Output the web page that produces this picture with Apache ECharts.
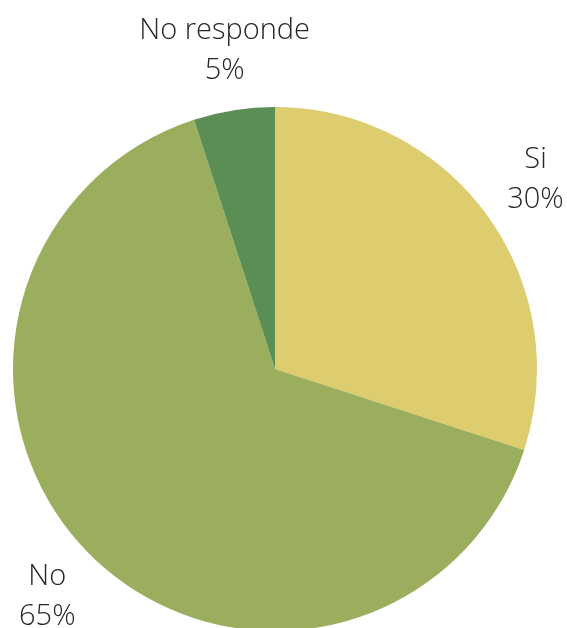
<!DOCTYPE html>
<html>
<head>
<meta charset="utf-8">
<script src="https://cdn.jsdelivr.net/npm/echarts@6/dist/echarts.min.js"></script>
<style>html,body{margin:0;padding:0;background:#fff}#c{width:567px;height:628px}</style>
</head>
<body>
<div id="c"></div>
<script>
var categories = ['Si', 'No', 'No responde'];
var values = [30, 65, 5];
var colors = ['#DDCD6F', '#9BAE5E', '#5B8E55'];

var data = categories.map(function (c, i) {
  return { name: c, value: values[i], itemStyle: { color: colors[i] } };
});
var labelData = categories.map(function (c, i) {
  return { name: c, value: values[i] };
});

var chart = echarts.init(document.getElementById('c'), null, { renderer: 'canvas' });
chart.setOption({
  animation: false,
  backgroundColor: '#ffffff',
  series: [
    {
      type: 'pie',
      center: [275, 369],
      radius: [0, 262],
      startAngle: 90,
      clockwise: true,
      data: data,
      label: { show: false },
      labelLine: { show: false },
      silent: true
    },
    {
      type: 'pie',
      center: [275, 369],
      radius: [0, 638],
      startAngle: 90,
      clockwise: true,
      data: labelData,
      silent: true,
      z: 3,
      itemStyle: { color: 'rgba(0,0,0,0)', borderWidth: 0 },
      labelLine: { show: false },
      label: {
        show: true,
        position: 'inside',
        formatter: '{b}\n{d}%',
        fontFamily: 'Open Sans',
        fontWeight: 300,
        fontSize: 29,
        lineHeight: 40,
        color: '#262626',
        align: 'center'
      }
    }
  ]
});
</script>
</body>
</html>
